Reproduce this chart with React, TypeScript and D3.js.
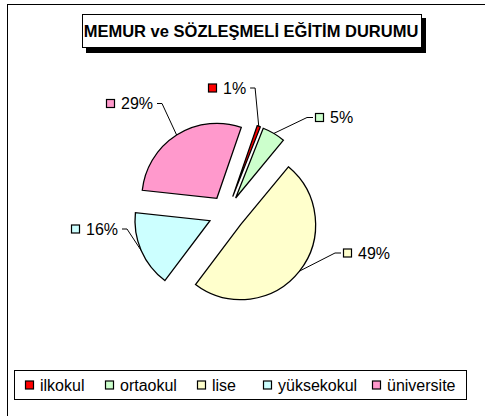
import React from "react";
import * as d3 from "d3";

const TITLE = "MEMUR ve SÖZLEŞMELİ EĞİTİM DURUMU";
const CATEGORIES = ["ilkokul", "ortaokul", "lise", "yüksekokul", "üniversite"];
const VALUES = [2, 14, 138, 46, 80];
const COLORS = ["#FF0000", "#CCFFCC", "#FFFFCC", "#CCFFFF", "#FF99CC"];

// layout
const W = 485;
const H = 416;
const CX = 226.5;
const CY = 213.5;
const R = 75;
const EXPLODE = 18;
const START = (19 * Math.PI) / 180;
const LABEL_POS: [number, number][] = [
  [208, 88],
  [315, 117.5],
  [343, 253],
  [71, 229],
  [106, 103.5],
];
const LEGEND_X = [25, 105, 197, 263, 372];
const FONT = "'Liberation Sans', Arial, sans-serif";

export default function App() {
  const total = d3.sum(VALUES);
  const pie = d3
    .pie<number>()
    .sort(null)
    .startAngle(START)
    .endAngle(START + 2 * Math.PI);
  const arcs = pie(VALUES);
  const arcGen = d3.arc<d3.PieArcDatum<number>>().innerRadius(0).outerRadius(R);
  const fmt = (v: number) => `${Math.round((v / total) * 100)}%`;

  return (
    <svg
      width={W}
      height={H}
      style={{ position: "absolute", left: 0, top: 0, background: "#fff" }}
      fontFamily={FONT}
    >
      <rect x={7.5} y={4.5} width={520} height={460} fill="#fff" stroke="#000" strokeWidth={1} />
      {/* title */}
      <rect x={86} y={18} width={340} height={35} fill="#000" />
      <rect x={82.5} y={14.5} width={339} height={33} fill="#fff" stroke="#000" strokeWidth={1} />
      <text x={251} y={37} textAnchor="middle" fontSize={16.5} fontWeight="bold" fill="#000">
        {TITLE}
      </text>

      {/* slices */}
      {arcs.map((a, i) => {
        const mid = (a.startAngle + a.endAngle) / 2;
        const dx = Math.sin(mid) * EXPLODE;
        const dy = -Math.cos(mid) * EXPLODE;
        return (
          <path
            key={CATEGORIES[i]}
            d={arcGen(a) || ""}
            transform={`translate(${CX + dx},${CY + dy})`}
            fill={COLORS[i]}
            stroke="#000"
            strokeWidth={1.3}
            strokeLinejoin="miter"
          />
        );
      })}

      {/* labels */}
      {arcs.map((a, i) => {
        const mid = (a.startAngle + a.endAngle) / 2;
        const px = CX + Math.sin(mid) * (R + EXPLODE);
        const py = CY - Math.cos(mid) * (R + EXPLODE);
        const [sx, sy] = LABEL_POS[i];
        const label = fmt(VALUES[i]);
        const textW = (label.length - 1) * 8.9 + 14.2;
        const left = sx < px;
        let pts: [number, number][];
        if (left) {
          const x0 = sx + 15 + textW + 4;
          pts = [
            [x0, sy],
            [x0 + 5, sy],
            [px, py],
          ];
        } else {
          pts = [
            [sx - 2, sy],
            [sx - 8, sy],
            [px, py],
          ];
        }
        return (
          <g key={`lab-${i}`}>
            <path d={d3.line()(pts) || ""} fill="none" stroke="#000" strokeWidth={1} />
            <rect x={sx + 0.5} y={sy - 4} width={8} height={8} fill={COLORS[i]} stroke="#000" strokeWidth={1.2} />
            <text x={sx + 15} y={sy + 5.8} fontSize={16} fill="#000">
              {label}
            </text>
          </g>
        );
      })}

      {/* legend */}
      <rect x={14.5} y={370.5} width={452} height={29} fill="#fff" stroke="#000" strokeWidth={1} />
      {CATEGORIES.map((c, i) => (
        <g key={`leg-${c}`}>
          <rect x={LEGEND_X[i] + 0.5} y={381} width={8} height={8} fill={COLORS[i]} stroke="#000" strokeWidth={1.2} />
          <text x={LEGEND_X[i] + 15} y={390.8} fontSize={16} fill="#000">
            {c}
          </text>
        </g>
      ))}
    </svg>
  );
}
